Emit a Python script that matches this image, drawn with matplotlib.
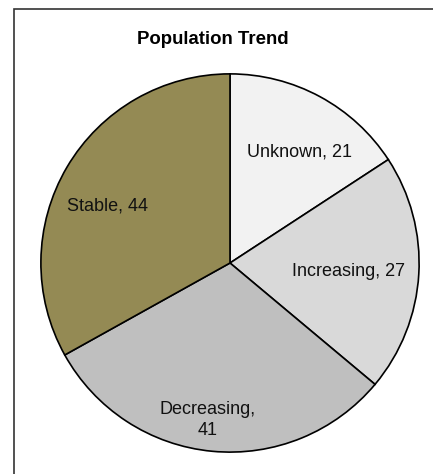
import matplotlib
matplotlib.use("Agg")
import matplotlib.pyplot as plt
from matplotlib.patches import Rectangle

plt.rcParams["font.family"] = ["Liberation Sans", "DejaVu Sans"]

# Données
categories = ["Unknown", "Increasing", "Decreasing", "Stable"]
counts     = [21, 27, 41, 44]
colors     = ["#f2f2f2", "#d9d9d9", "#bfbfbf", "#948a54"]
labels     = ["Unknown, 21", "Increasing, 27", "Decreasing,\n41", "Stable, 44"]

# positions des étiquettes (unités du rayon)
label_pos = [(0.365, 0.585), (0.625, -0.045), (-0.12, -0.83), (-0.65, 0.30)]

W, H = 433, 474
fig = plt.figure(figsize=(W / 100, H / 100), dpi=100)

# cadre
fig.add_artist(Rectangle((14 / W, -0.1), 1.2, 1.1 - 9 / H, transform=fig.transFigure,
                         fill=False, edgecolor="#333333", linewidth=1.2))

cx, cy, r = 230, 263, 191
ax = fig.add_axes([(cx - r) / W, (H - cy - r) / H, 2 * r / W, 2 * r / H])
ax.pie(counts, colors=colors, startangle=90, counterclock=False,
       wedgeprops=dict(edgecolor="black", linewidth=1.2))
ax.set_xlim(-1.01, 1.01)
ax.set_ylim(-1.01, 1.01)

for txt, (x, y) in zip(labels, label_pos):
    ax.text(x, y, txt, ha="center", va="center", fontsize=13, color="#111111",
            linespacing=1.25)

fig.text(212.5 / W, 1 - 39 / H, "Population Trend", ha="center", va="center",
         fontsize=13.4, fontweight="bold")

plt.savefig("out.png", dpi=100)
plt.close()
